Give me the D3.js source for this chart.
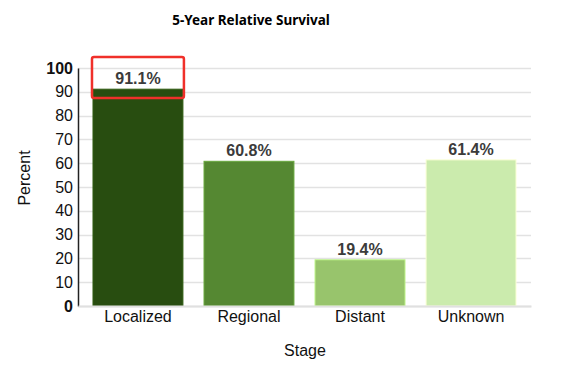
<!DOCTYPE html>
<html>
<head>
<meta charset="utf-8">
<script src="https://cdn.jsdelivr.net/npm/d3@7"></script>
<style>
  body { margin: 0; background: #fff; }
  text { font-family: "Liberation Sans", Arial, sans-serif; }
</style>
</head>
<body>
<div id="chart"></div>
<script>
var stages = ['Localized', 'Regional', 'Distant', 'Unknown'];
var survival = [91.1, 60.8, 19.4, 61.4];
var barColors = ['#284d10', '#558832', '#98c46c', '#cbebad'];
var yTicks = [0, 10, 20, 30, 40, 50, 60, 70, 80, 90, 100];

var width = 561, height = 370;
var margin = {left: 78, right: 30, top: 68, bottom: 64};

var svg = d3.select('#chart').append('svg')
  .attr('width', width)
  .attr('height', height);

var x = d3.scaleBand()
  .domain(stages)
  .range([margin.left, width - margin.right])
  .paddingInner(0.19)
  .paddingOuter(0.135);

var y = d3.scaleLinear()
  .domain([0, 100])
  .range([height - margin.bottom, margin.top]);

// grid
svg.append('g')
  .selectAll('line')
  .data(yTicks)
  .enter().append('line')
  .attr('x1', margin.left)
  .attr('x2', width - margin.right)
  .attr('y1', function(d) { return Math.round(y(d)) + 0.5; })
  .attr('y2', function(d) { return Math.round(y(d)) + 0.5; })
  .attr('stroke', '#e2e2e2')
  .attr('stroke-width', 1.5);

// bars
svg.append('g')
  .selectAll('rect')
  .data(survival)
  .enter().append('rect')
  .attr('x', function(d, i) { return x(stages[i]); })
  .attr('y', function(d) { return y(d); })
  .attr('width', x.bandwidth())
  .attr('height', function(d) { return y(0) - y(d); })
  .attr('fill', function(d, i) { return barColors[i]; })
  .attr('stroke', function(d, i) { return d3.color(barColors[i]).brighter(0.6); })
  .attr('stroke-width', 1);

// value labels
svg.append('g')
  .selectAll('text')
  .data(survival)
  .enter().append('text')
  .attr('x', function(d, i) { return x(stages[i]) + x.bandwidth() / 2; })
  .attr('y', function(d) { return y(d) - 5; })
  .attr('text-anchor', 'middle')
  .style('font-size', '16px')
  .style('font-weight', 'bold')
  .style('fill', '#3b3b3b')
  .text(function(d) { return d.toFixed(1) + '%'; });

// highlight box around the first label
svg.append('rect')
  .attr('x', x(stages[0]) - 1)
  .attr('y', 57)
  .attr('width', x.bandwidth() + 2)
  .attr('height', 41)
  .attr('rx', 2)
  .attr('fill', 'none')
  .attr('stroke', '#f0302a')
  .attr('stroke-width', 2.5);

// y axis
var yAxis = svg.append('g')
  .attr('transform', 'translate(' + margin.left + ',0)')
  .call(d3.axisLeft(y).tickValues(yTicks).tickSize(0).tickPadding(5));
yAxis.select('.domain').attr('stroke', '#222').attr('stroke-width', 1.5);
yAxis.selectAll('text')
  .style('font-size', '16px')
  .style('fill', '#111')
  .style('font-weight', function(d) { return (d === 0 || d === 100) ? 'bold' : 'normal'; });

// x axis
var xAxis = svg.append('g')
  .attr('transform', 'translate(0,' + y(0) + ')')
  .call(d3.axisBottom(x).tickSize(0).tickPadding(5));
xAxis.select('.domain').attr('stroke', '#e0e0e0').attr('stroke-width', 2);
xAxis.selectAll('text')
  .style('font-size', '16px')
  .style('fill', '#111');

// titles
svg.append('text')
  .attr('x', 251)
  .attr('y', 25)
  .attr('text-anchor', 'middle')
  .style('font-family', '"Noto Sans", sans-serif')
  .style('font-size', '13.5px')
  .style('font-weight', 'bold')
  .text('5-Year Relative Survival');

svg.append('text')
  .attr('transform', 'translate(30,178) rotate(-90)')
  .attr('text-anchor', 'middle')
  .style('font-size', '16px')
  .style('fill', '#111')
  .text('Percent');

svg.append('text')
  .attr('x', 305)
  .attr('y', 356)
  .attr('text-anchor', 'middle')
  .style('font-size', '16px')
  .style('fill', '#111')
  .text('Stage');
</script>
</body>
</html>
